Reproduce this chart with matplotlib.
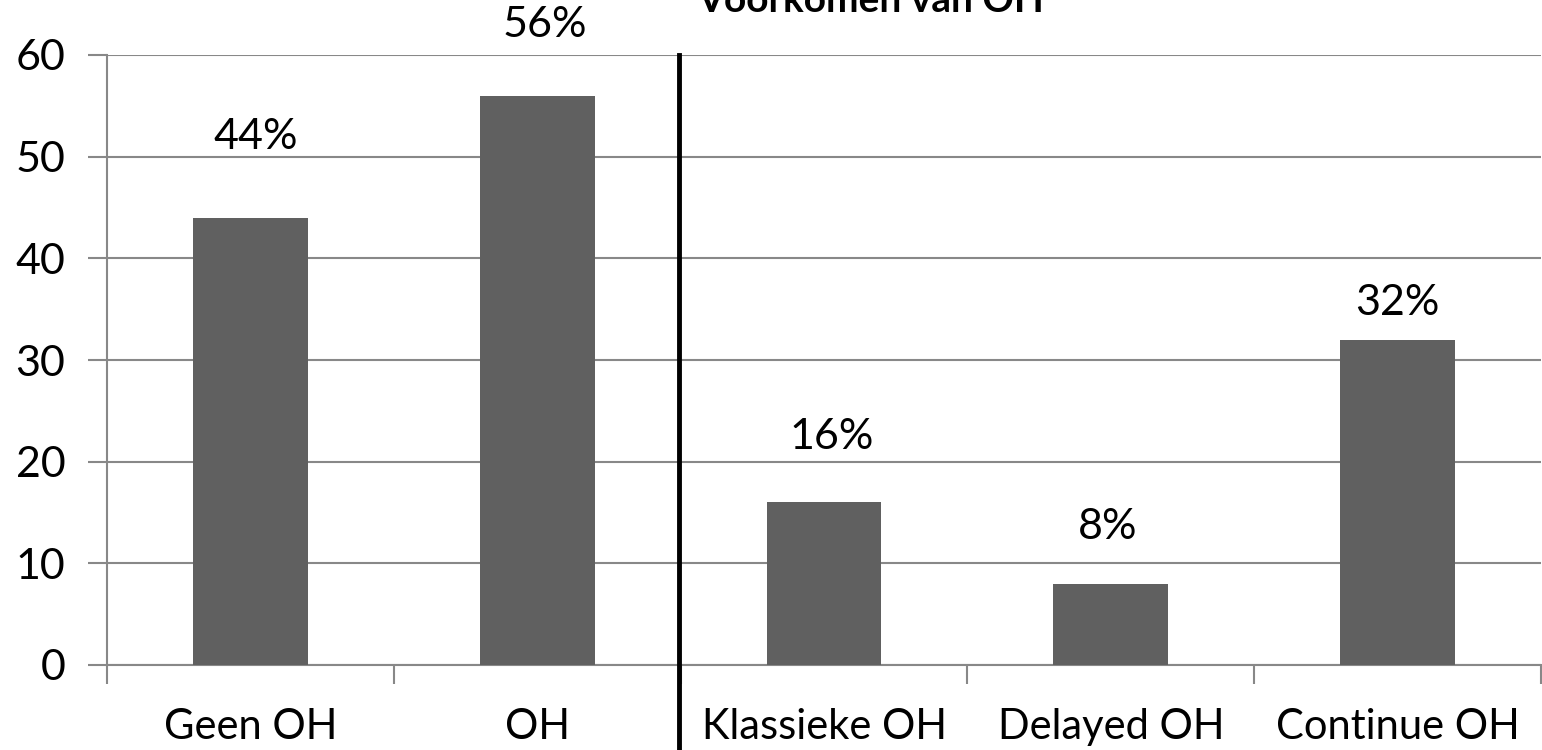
import matplotlib
matplotlib.use("Agg")
import matplotlib.pyplot as plt

categories = ["Geen OH", "OH", "Klassieke OH", "Delayed OH", "Continue OH"]
values = [44, 56, 16, 8, 32]
labels = ["44%", "56%", "16%", "8%", "32%"]
yticks = [0, 10, 20, 30, 40, 50, 60]
title = "Voorkomen van OH"

# label placement (pixels above bar top, horizontal shift) as in the original
label_dy = [69, 59, 53, 45, 25]
label_dx = [5, 8, 8, -3, 0]

plt.rcParams['font.family'] = ['Lato', 'DejaVu Sans']

W, H = 1542, 750
fig = plt.figure(figsize=(W / 100, H / 100), dpi=100)
ax = fig.add_axes([107 / W, 1 - 665 / H, (1541 - 107) / W, (665 - 55) / H])

FS = 30
x = list(range(len(categories)))
ax.bar(x, values, width=0.4, color="#606060", zorder=3)
ax.set_xlim(-0.5, len(categories) - 0.5)
ax.set_ylim(0, 60)
ax.set_yticks(yticks)
ax.set_yticklabels([str(v) for v in yticks], fontsize=FS + 1)
ax.yaxis.grid(True, color="#888888", linewidth=1.5, zorder=0)
ax.set_axisbelow(True)

ax.set_xticks(x)
ax.set_xticklabels(categories, fontsize=FS)
ax.tick_params(axis="x", length=0, pad=31)
ax.tick_params(axis="y", length=14, width=1.5, color="#888888", pad=16)
ax.set_xticks([i - 0.5 for i in range(len(categories) + 1)], minor=True)
ax.tick_params(axis="x", which="minor", length=14, width=1.5, color="#888888")

for s in ["top", "right"]:
    ax.spines[s].set_visible(False)
for s in ["left", "bottom"]:
    ax.spines[s].set_color("#888888")
    ax.spines[s].set_linewidth(1.5)

for xi, v, lab, dx, dy in zip(x, values, labels, label_dx, label_dy):
    ax.annotate(lab, (xi, v), xytext=(dx, dy), textcoords="offset pixels",
                ha="center", va="baseline", fontsize=FS + 1)

fig.add_artist(plt.Line2D([679 / W, 679 / W], [0, 1 - 55 / H], color="black", linewidth=3.5))

fig.text(871 / W, 1 - 12 / H, title, ha="center", va="baseline", fontsize=28, fontweight="bold")

fig.savefig("out.png", dpi=100)
